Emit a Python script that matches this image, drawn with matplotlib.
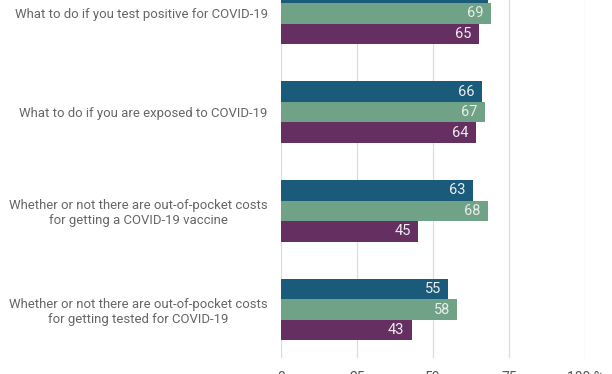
import matplotlib
matplotlib.use("Agg")
from matplotlib import pyplot as plt
import numpy as np

plt.rcParams['font.family'] = ['Roboto', 'DejaVu Sans']

topics = ['What to do if you test positive for COVID-19',
          'What to do if you are exposed to COVID-19',
          'Whether or not there are out-of-pocket costs\nfor getting a COVID-19 vaccine',
          'Whether or not there are out-of-pocket costs\nfor getting tested for COVID-19']
series_blue = [68, 66, 63, 55]
series_green = [69, 67, 68, 58]
series_purple = [65, 64, 45, 43]

colors = ['#1a5b7b', '#6fa287', '#662f62']
tick_vals = [0, 25, 50, 75, 100]
tick_text = ['0', '25', '50', '75', '100 %']

fig = plt.figure(figsize=(6.12, 3.74), dpi=100)
# axes extends above the top of the figure (top of chart is cropped)
ax = fig.add_axes([281 / 612, 16 / 374, 304.3 / 612, 393 / 374])

y = np.arange(len(topics))
h = 0.207
for off, vals, col in zip([-h, 0, h], [series_blue, series_green, series_purple], colors):
    bars = ax.barh(y + off, vals, height=h, color=col, edgecolor='none', zorder=2)
    for b, v in zip(bars, vals):
        ax.text(v - 2.4, b.get_y() + b.get_height() / 2, str(v), ha='right', va='center',
                color='#ececec', fontsize=10.5, zorder=3)

ax.set_xlim(0, 100)
ax.set_ylim(3.49, -0.49)
ax.set_xticks(tick_vals)
ax.set_xticklabels(tick_text, color='#555555', fontsize=10)
ax.set_yticks(y)
ax.set_yticklabels(topics, color='#666666', fontsize=9.45, multialignment='center')
ax.tick_params(axis='both', length=0)
ax.tick_params(axis='x', pad=9)
ax.tick_params(axis='y', pad=9.5)
ax.grid(axis='x', color='#dddddd', linewidth=0.9, zorder=0)
for s in ax.spines.values():
    s.set_visible(False)

plt.savefig('out.png', dpi=100)
